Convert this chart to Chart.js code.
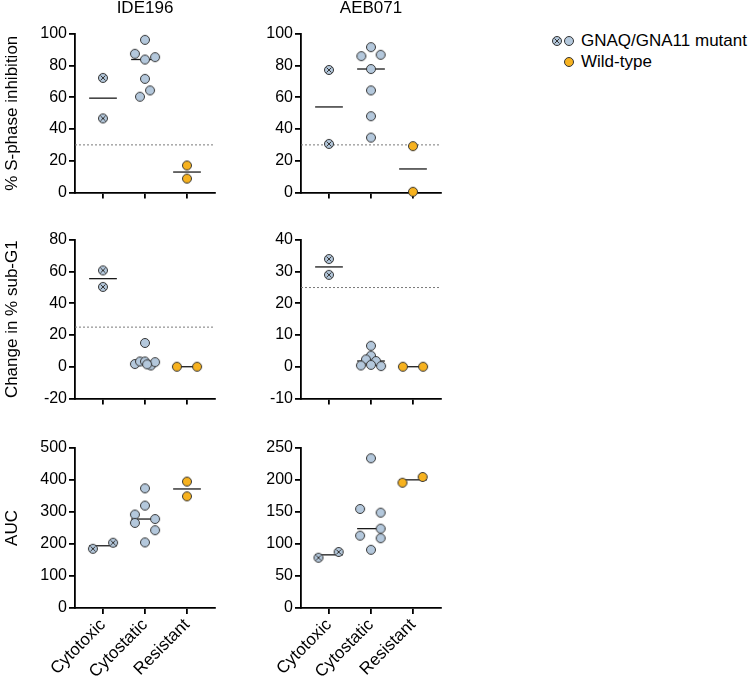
<!DOCTYPE html>
<html>
<head>
<meta charset="utf-8">
<script src="https://cdn.jsdelivr.net/npm/chart.js@4.4.1/dist/chart.umd.min.js"></script>
<style>
  body { margin: 0; background: #fff; width: 748px; height: 676px; position: relative; overflow: hidden;
         font-family: "Liberation Sans", Arial, sans-serif; color: #000; }
  canvas { position: absolute; }
  .lg-text { position: absolute; font-size: 17px; line-height: 22px; white-space: nowrap; }
</style>
</head>
<body>
<canvas id="c00" width="223" height="204"></canvas>
<canvas id="c01" width="223" height="204"></canvas>
<canvas id="c10" width="223" height="190"></canvas>
<canvas id="c11" width="223" height="190"></canvas>
<canvas id="c20" width="223" height="248"></canvas>
<canvas id="c21" width="223" height="248"></canvas>
<script>
const categories = ["Cytotoxic", "Cytostatic", "Resistant"];
const drugs = ["IDE196", "AEB071"];
const yTitles = ["% S-phase inhibition", "Change in % sub-G1", "AUC"];
const legendLabels = ["GNAQ/GNA11 mutant", "Wild-type"];

// IDE196 - % S-phase inhibition
const ideSphaseToxic = [72.3, 46.7];
const ideSphaseStatic = [96.3, 87.5, 83.9, 85.4, 71.7, 64.4, 60.4];
const ideSphaseResist = [17.0, 8.7];
// AEB071 - % S-phase inhibition
const aebSphaseToxic = [77.3, 30.6];
const aebSphaseStatic = [91.7, 86.0, 86.9, 77.9, 64.4, 48.1, 34.6];
const aebSphaseResist = [29.2, 0.4];
// IDE196 - change in % sub-G1
const ideSubG1Toxic = [60.8, 50.4];
const ideSubG1Static = [15.0, 1.7, 3.3, 3.3, 0.8, 2.9, 1.5];
const ideSubG1Resist = [0, 0];
// AEB071 - change in % sub-G1
const aebSubG1Toxic = [34.0, 29.0];
const aebSubG1Static = [6.6, 3.5, 2.3, 1.8, 0.4, 0.6, 0.2];
const aebSubG1Resist = [0, 0];
// IDE196 - AUC
const ideAucToxic = [185, 204];
const ideAucStatic = [374, 320, 292, 266, 278, 243, 205];
const ideAucResist = [395, 349];
// AEB071 - AUC
const aebAucToxic = [78.6, 87.5];
const aebAucStatic = [233.9, 154.7, 149, 124, 113, 109, 91];
const aebAucResist = [195.8, 204.7];

// sideways spread of the dots inside a column (category units)
const ideSphaseSpread = [[0, 0], [0, -0.24, 0, 0.24, 0, 0.12, -0.12], [0, 0]];
const aebSphaseSpread = [[0, 0], [0, -0.23, 0.23, 0, 0, 0, 0], [0, 0]];
const ideSubG1Spread = [[0, 0], [0, -0.24, -0.12, 0, 0.14, 0.24, 0.05], [-0.24, 0.24]];
const aebSubG1Spread = [[0, 0], [0, 0, -0.12, 0.12, -0.24, 0, 0.24], [-0.24, 0.24]];
const ideAucSpread = [[-0.24, 0.24], [0, 0, -0.24, -0.24, 0.24, 0.24, 0], [0, 0]];
const aebAucSpread = [[-0.25, 0.23], [0, -0.26, 0.23, 0.23, -0.26, 0.23, 0], [-0.25, 0.23]];

// y axes: [min, max, step]
const ideSphaseAxis = [0, 100, 20];
const aebSphaseAxis = [0, 100, 20];
const ideSubG1Axis = [-20, 80, 20];
const aebSubG1Axis = [-10, 40, 10];
const ideAucAxis = [0, 500, 100];
const aebAucAxis = [0, 250, 50];

const sphaseCutoff = 30;
const subG1Cutoff = 25;

const FONT = "'Liberation Sans', Arial, sans-serif";
const BLUE = "#b4c8dc";
const ORANGE = "#f7b21f";
const X_MIN = 1 / 3, X_MAX = 11 / 3;
const MED_HALF = 0.33;

function median(a) {
    const s = [...a].sort((p, q) => p - q);
    const m = Math.floor(s.length / 2);
    return s.length % 2 ? s[m] : (s[m - 1] + s[m]) / 2;
}

function markerImage(fill, crossed) {
    const c = document.createElement("canvas");
    c.width = 12; c.height = 12;
    const g = c.getContext("2d");
    g.beginPath();
    g.arc(6, 6, 4.5, 0, Math.PI * 2);
    g.fillStyle = fill;
    g.fill();
    g.lineWidth = 1;
    g.strokeStyle = "#333";
    g.stroke();
    if (crossed) {
        const d = 2.5;
        g.beginPath();
        g.moveTo(6 - d, 6 - d); g.lineTo(6 + d, 6 + d);
        g.moveTo(6 + d, 6 - d); g.lineTo(6 - d, 6 + d);
        g.stroke();
    }
    return c;
}

const panels = [
    { id: "c00", row: 0, col: 0, groups: [ideSphaseToxic, ideSphaseStatic, ideSphaseResist], spread: ideSphaseSpread, axis: ideSphaseAxis, cutoff: sphaseCutoff },
    { id: "c01", row: 0, col: 1, groups: [aebSphaseToxic, aebSphaseStatic, aebSphaseResist], spread: aebSphaseSpread, axis: aebSphaseAxis, cutoff: sphaseCutoff },
    { id: "c10", row: 1, col: 0, groups: [ideSubG1Toxic, ideSubG1Static, ideSubG1Resist], spread: ideSubG1Spread, axis: ideSubG1Axis, cutoff: subG1Cutoff },
    { id: "c11", row: 1, col: 1, groups: [aebSubG1Toxic, aebSubG1Static, aebSubG1Resist], spread: aebSubG1Spread, axis: aebSubG1Axis, cutoff: subG1Cutoff },
    { id: "c20", row: 2, col: 0, groups: [ideAucToxic, ideAucStatic, ideAucResist], spread: ideAucSpread, axis: ideAucAxis, cutoff: null },
    { id: "c21", row: 2, col: 1, groups: [aebAucToxic, aebAucStatic, aebAucResist], spread: aebAucSpread, axis: aebAucAxis, cutoff: null }
];

const canvasLeft = [0, 226];
const canvasTop = [0, 220, 428];
const xAxisHeight = [10, 10, 68];

function buildPanel(p) {
    const el = document.getElementById(p.id);
    el.style.left = canvasLeft[p.col] + "px";
    el.style.top = canvasTop[p.row] + "px";

    const styles = [markerImage(BLUE, true), markerImage(BLUE, false), markerImage(ORANGE, false)];
    const datasets = [];

    p.groups.forEach((vals, gi) => {
        const cx = gi + 1;
        datasets.push({
            data: vals.map((v, i) => ({ x: cx + p.spread[gi][i], y: v })),
            pointStyle: styles[gi],
            pointRadius: 5,
            clip: false,
            order: 1
        });
        const m = median(vals);
        datasets.push({
            data: [{ x: cx - MED_HALF, y: m }, { x: cx + MED_HALF, y: m }],
            showLine: true,
            borderColor: "#1a1a1a",
            borderWidth: 1.3,
            pointRadius: 0,
            clip: false,
            order: 2
        });
    });

    if (p.cutoff !== null) {
        datasets.push({
            data: [{ x: X_MIN, y: p.cutoff }, { x: X_MAX, y: p.cutoff }],
            showLine: true,
            borderColor: "#7a7a7a",
            borderWidth: 1,
            borderDash: [2, 2],
            pointRadius: 0,
            order: 3
        });
    }

    const axisLine = { display: true, color: "#000", width: 1.8 };
    const tickGrid = { display: true, drawOnChartArea: false, drawTicks: true, tickLength: 6, color: "#000", lineWidth: 1.8 };

    new Chart(el, {
        type: "scatter",
        data: { datasets },
        options: {
            responsive: false,
            animation: false,
            events: [],
            layout: { padding: { top: p.row === 0 ? 0 : 20, right: 8, left: 0, bottom: 0 } },
            plugins: {
                legend: { display: false },
                tooltip: { enabled: false },
                title: {
                    display: p.row === 0,
                    text: drugs[p.col],
                    fullSize: false,
                    color: "#000",
                    font: { family: FONT, size: 17, weight: "normal", lineHeight: 1 },
                    padding: { top: 0, bottom: 17 }
                }
            },
            scales: {
                x: {
                    type: "linear",
                    min: X_MIN,
                    max: X_MAX,
                    afterBuildTicks: s => { s.ticks = [1, 2, 3].map(v => ({ value: v })); },
                    afterFit: s => { s.height = xAxisHeight[p.row]; },
                    border: axisLine,
                    grid: tickGrid,
                    ticks: {
                        display: p.row === 2,
                        minRotation: 45,
                        maxRotation: 45,
                        padding: 1,
                        color: "#000",
                        font: { family: FONT, size: 17 },
                        callback: v => categories[v - 1]
                    }
                },
                y: {
                    min: p.axis[0],
                    max: p.axis[1],
                    afterFit: s => { s.width = 75; },
                    border: axisLine,
                    grid: tickGrid,
                    ticks: {
                        stepSize: p.axis[2],
                        padding: 2,
                        color: "#000",
                        font: { family: FONT, size: 16 }
                    },
                    title: {
                        display: p.col === 0,
                        text: yTitles[p.row],
                        color: "#000",
                        font: { family: FONT, size: 17 },
                        padding: { top: 2, bottom: 0 }
                    }
                }
            }
        }
    });
}

panels.forEach(buildPanel);

// legend
function legendIcon(fill, crossed, cx, cy) {
    const c = markerImage(fill, crossed);
    c.style.left = (cx - 6) + "px";
    c.style.top = (cy - 6) + "px";
    document.body.appendChild(c);
}
function legendText(txt, x, cy) {
    const s = document.createElement("div");
    s.className = "lg-text";
    s.textContent = txt;
    s.style.left = x + "px";
    s.style.top = (cy - 11) + "px";
    document.body.appendChild(s);
}
legendIcon(BLUE, true, 557, 41);
legendIcon(BLUE, false, 569, 41);
legendText(legendLabels[0], 581, 41);
legendIcon(ORANGE, false, 569, 62);
legendText(legendLabels[1], 581, 62);
</script>
</body>
</html>
